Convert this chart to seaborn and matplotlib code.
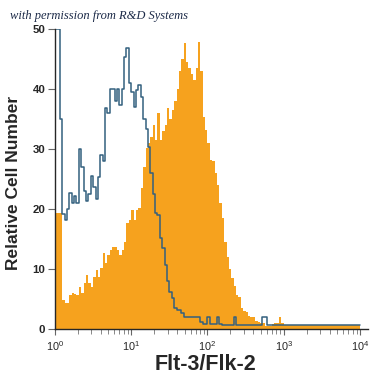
import numpy as np
import pandas as pd
import matplotlib
matplotlib.use("Agg")
import matplotlib.pyplot as plt
import seaborn as sns
from matplotlib.ticker import LogLocator, LogFormatterMathtext, NullFormatter

# 128 channel bins spread evenly over 4 log decades (10^0 .. 10^4)
n_bins = 128
log_edges = np.linspace(0, 4, n_bins + 1)
channel_centers = 10 ** ((log_edges[:-1] + log_edges[1:]) / 2)

# Flt-3/Flk-2 stained cells (filled orange histogram), counts per bin
flt3_counts = [
    19.4, 19.4, 19.4, 4.8, 4.3, 4.3, 5.7, 6.0, 5.8, 5.7, 7.0, 6.0, 7.7, 9.0, 7.7, 7.0,
    8.7, 9.8, 8.7, 10.1, 12.6, 11.0, 12.3, 13.2, 13.7, 13.7, 13.2, 12.3, 13.2, 14.5, 17.7, 18.2,
    19.8, 18.2, 19.8, 20.2, 23.5, 27.0, 30.2, 31.0, 32.0, 34.0, 31.5, 36.0, 31.5, 33.0, 34.0, 36.8,
    35.0, 36.5, 38.0, 40.0, 43.0, 45.0, 47.7, 44.5, 43.5, 42.5, 41.5, 43.5, 47.9, 43.0, 35.4, 33.2,
    31.0, 28.2, 28.0, 26.0, 24.0, 21.0, 18.5, 14.5, 12.0, 10.0, 8.5, 7.2, 5.6, 5.3, 3.5, 3.0,
    2.8, 2.2, 2.0, 2.0, 1.3, 1.2, 1.0, 1.0, 0.5, 0.5, 0.5, 0.8, 1.0, 1.0, 2.0, 1.0,
    0.6, 0.6, 0.6, 0.6, 0.6, 0.6, 0.6, 0.6, 0.6, 0.6, 0.6, 0.6, 0.6, 0.6, 0.6, 0.6,
    0.6, 0.6, 0.6, 0.6, 0.6, 0.6, 0.6, 0.6, 0.6, 0.6, 0.6, 0.6, 0.6, 0.6, 0.6, 0.6,
]

# isotype control (open outline histogram), counts per bin
isotype_counts = [
    50.0, 50.0, 35.0, 19.2, 18.2, 20.0, 22.7, 21.0, 22.2, 21.0, 30.0, 27.0, 23.0, 21.4, 22.5, 25.5,
    23.6, 21.7, 25.3, 29.0, 28.0, 36.8, 36.0, 40.0, 40.0, 38.0, 40.0, 37.3, 40.0, 45.3, 46.8, 41.0,
    39.5, 37.0, 39.8, 40.6, 38.6, 35.0, 33.4, 30.3, 26.0, 22.5, 19.3, 19.0, 15.2, 13.5, 10.7, 8.0,
    6.2, 5.2, 3.5, 3.2, 3.2, 2.7, 2.0, 2.0, 2.0, 2.0, 2.0, 2.0, 2.0, 1.2, 0.8, 0.8,
    2.0, 0.8, 0.8, 0.8, 2.0, 0.8, 0.7, 0.7, 0.7, 0.7, 0.7, 2.0, 0.6, 0.6, 0.6, 0.6,
    0.6, 0.6, 0.6, 0.6, 0.6, 0.6, 0.6, 2.0, 2.0, 0.6, 0.6, 0.6, 0.6, 0.6, 0.6, 0.6,
    0.6, 0.6, 0.6, 0.6, 0.6, 0.6, 0.6, 0.6, 0.6, 0.6, 0.6, 0.6, 0.6, 0.6, 0.6, 0.6,
    0.6, 0.6, 0.6, 0.6, 0.6, 0.6, 0.6, 0.6, 0.6, 0.6, 0.6, 0.6, 0.6, 0.6, 0.6, 0.6,
]

y_ticks = [0, 10, 20, 30, 40, 50]

df = pd.DataFrame({"channel": channel_centers, "flt3": flt3_counts, "isotype": isotype_counts})

sns.set_style("ticks")
plt.rcParams['font.family'] = ['Liberation Sans', 'DejaVu Sans']
plt.rcParams['mathtext.fontset'] = 'custom'
plt.rcParams['mathtext.rm'] = 'Liberation Sans'

fig = plt.figure(figsize=(3.75, 3.75), dpi=100)
ax = fig.add_axes([55 / 375, 46 / 375, 313 / 375, 300 / 375])

# bins are given in log10 units because log_scale=True
bin_list = log_edges.tolist()

# filled histogram
sns.histplot(data=df, x="channel", weights="flt3", bins=bin_list, log_scale=True,
             element="step", fill=True, color="#F6A21E", alpha=1, linewidth=0, ax=ax)
# control outline on top
sns.histplot(data=df, x="channel", weights="isotype", bins=bin_list, log_scale=True,
             element="step", fill=False, color="#33607f", linewidth=1.1, ax=ax)

ax.set_xlim(1, 10 ** 4.105)
ax.set_ylim(0, 50)
ax.set_yticks(y_ticks)
ax.xaxis.set_major_locator(LogLocator(base=10, numticks=10))
ax.xaxis.set_major_formatter(LogFormatterMathtext())
ax.xaxis.set_minor_locator(LogLocator(base=10, subs=np.arange(2, 10), numticks=20))
ax.xaxis.set_minor_formatter(NullFormatter())

ax.tick_params(axis="y", direction="out", length=5, width=0.8, color="#666666",
               labelsize=8.2, pad=2)
for lbl in ax.get_yticklabels():
    lbl.set_fontweight("bold")
ax.tick_params(axis="x", which="major", direction="out", length=4.5, width=0.8,
               color="#666666", labelsize=7.8, pad=3)
ax.tick_params(axis="x", which="minor", direction="out", length=3.5, width=0.7,
               color="#888888")

sns.despine(ax=ax)
ax.spines["left"].set_linewidth(1.0)
ax.spines["bottom"].set_linewidth(1.0)
ax.set_xlabel("")
ax.set_ylabel("")

fig.text(206 / 375, 1 - 364 / 375, "Flt-3/Flk-2", ha="center", va="center",
         fontsize=15.5, fontweight="bold")
fig.text(14 / 375, 1 - 183 / 375, "Relative Cell Number", ha="center", va="center",
         rotation=90, fontsize=12.5, fontweight="bold")
fig.text(10 / 375, 1 - 16 / 375, "with permission from R&D Systems", ha="left", va="center",
         family=["Liberation Serif", "DejaVu Serif"], style="italic", fontsize=9,
         color="#1c2a48")

fig.savefig("out.png", dpi=100)
